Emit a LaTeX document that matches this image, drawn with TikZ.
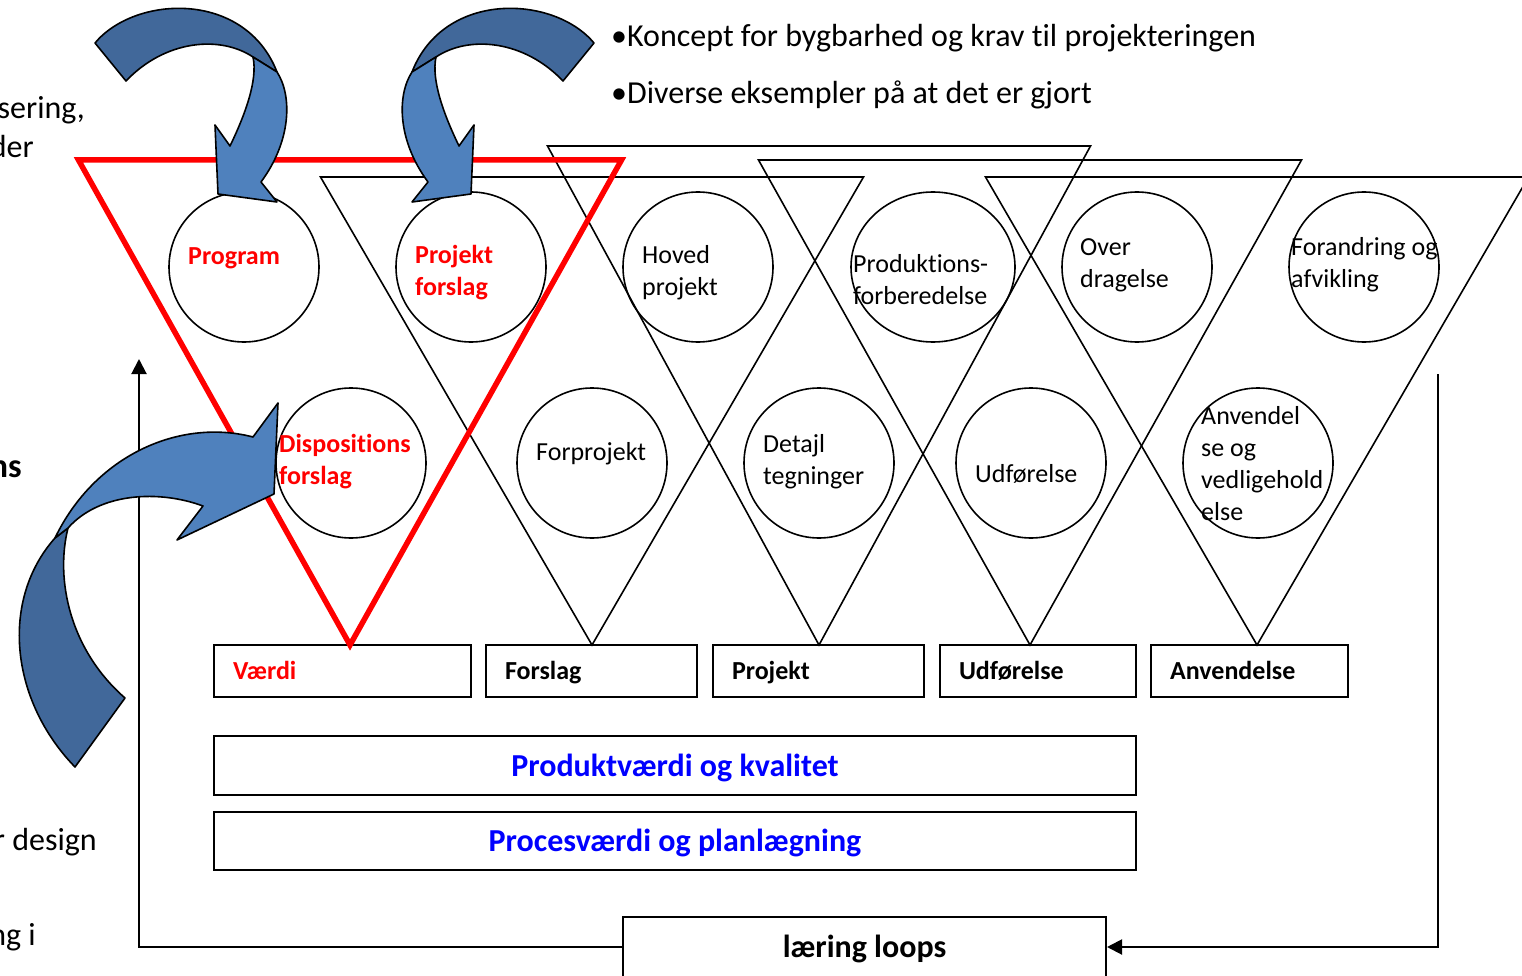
\documentclass[tikz,border=0pt]{standalone}
\usepackage{fontspec}
\setmainfont{Carlito}[Ligatures=NoCommon]
\usepackage{tikz}
\usetikzlibrary{arrows.meta, shapes.geometric}
\tikzstyle{sheet} = [x = 1pt, y = -1pt]
\definecolor{arrowFront}{RGB}{79,129,189}
\definecolor{arrowBack}{RGB}{65,104,154}
\definecolor{phaseRed}{RGB}{255,0,0}
\definecolor{valueBlue}{RGB}{0,0,255}
\newcommand{\smallFont}{\fontsize{26}{32}\selectfont}
\newcommand{\bigFont}{\fontsize{32}{38}\selectfont}
\tikzstyle{triangleLine} = [color=black, line width=1.6pt]
\tikzstyle{redTriangleLine} = [color=phaseRed, line width=5.5pt]
\tikzstyle{stageCircle} = [draw, ellipse, line width=1.6pt, minimum width=150, minimum height=150, inner sep=0]
\tikzstyle{stageText} = [font=\smallFont, align=left, inner sep=0, anchor=west]
\tikzstyle{redBold} = [text=phaseRed, font=\smallFont\bfseries]
\tikzstyle{phaseBoxStyle} = [draw, text height=17.5pt, text depth=0pt, line width=2pt, minimum height=52, inner xsep=19, align=left, font=\smallFont\bfseries]
\tikzstyle{valueBox} = [draw, text height=21.5pt, text depth=0pt, line width=2pt, minimum width=922, text=valueBlue, font=\bigFont\bfseries]
\tikzstyle{learningBox} = [draw, text height=21.5pt, text depth=0pt, line width=2pt, minimum width=483, minimum height=60, font=\bigFont\bfseries]
\tikzstyle{bigText} = [font=\bigFont, inner sep=0]
\tikzstyle{loopLine} = [line width=2pt, -{Triangle[length=15pt, width=15pt]}]
\tikzstyle{arrowBackStyle} = [fill=arrowBack, draw=black, line width=1.6pt, line join=round]
\tikzstyle{arrowFrontStyle} = [fill=arrowFront, draw=black, line width=1.6pt, line join=round]
\newcommand{\phaseTriangle}[3]{\draw [#3] (#1 - 271.5, #2) -- (#1 + 271.5, #2) -- (#1, 645) -- cycle;}
\newcommand{\stage}[8][]{
  \node [stageCircle, #1] (#2) at (#3, #4) {};
  \node [stageText, #8] (#2Text) at (#5, #6) {#7};
}
\newcommand{\phaseBox}[5]{
  \pgfmathsetmacro{\boxWidth}{#3 - #2 - 38}
  \node [phaseBoxStyle, text width=\boxWidth pt, text=#5] (#1) at ({(#2 + #3) / 2}, 671) {#4};
}

\begin{document}
\begin{tikzpicture}[sheet]
  \useasboundingbox (0,0) rectangle (1522,976);

  \node [bigText, anchor=base west] (koncept) at (611, 47) {•Koncept for bygbarhed og krav til projekteringen};
  \node [bigText, anchor=base west] (diverse) at (611, 104) {•Diverse eksempler på at det er gjort};
  \node [bigText, anchor=base east] (sering) at (85, 119) {sering,};
  \node [bigText, anchor=base east] (der) at (34, 158) {der};
  \node [bigText, anchor=base east, font=\fontsize{34}{40}\selectfont\bfseries] (ns) at (22, 477) {ns};
  \node [bigText, anchor=base east] (design) at (97, 850) {r design};
  \node [bigText, anchor=base east] (ngI) at (36, 945) {ng i};

  \stage{program}{244}{267}{188}{258}{Program}{redBold}
  \stage{projektForslag}{471}{267}{415}{273}{Projekt\\forslag}{redBold}
  \stage{hovedProjekt}{698}{267}{642}{273}{Hoved\\projekt}{}
  \stage[minimum width=164]{produktion}{933}{267}{853}{280}{Produktions-\\forberedelse}{}
  \stage{overdragelse}{1137}{267}{1080}{265}{Over\\dragelse}{}
  \stage{forandring}{1364}{267}{1291}{265}{Forandring og\\afvikling}{}
  \stage{dispositions}{351}{463}{279}{462}{Dispositions\\forslag}{redBold}
  \stage{forprojekt}{592}{463}{536}{454}{Forprojekt}{}
  \stage{detajl}{819}{463}{763}{462}{Detajl\\tegninger}{}
  \stage{udfoerelse}{1031}{463}{975}{474}{Udførelse}{}
  \stage{anvendelse}{1258}{463}{1201}{464}{Anvendel\\se og\\vedligehold\\else}{}

  \phaseBox{vaerdi}{214}{471}{Værdi}{phaseRed}
  \phaseBox{forslag}{486}{697}{Forslag}{black}
  \phaseBox{projekt}{713}{924}{Projekt}{black}
  \phaseBox{udfoerelseBox}{940}{1136}{Udførelse}{black}
  \phaseBox{anvendelseBox}{1151}{1348}{Anvendelse}{black}

  \foreach \apex/\top in {592/177, 819/146, 1030/160, 1257/177} {
    \phaseTriangle{\apex}{\top}{triangleLine}
  }
  \phaseTriangle{350}{160}{redTriangleLine}

  \node [valueBox, minimum height=59] (produktvaerdi) at (675, 765.5) {Produktværdi og kvalitet};
  \node [valueBox, minimum height=58] (procesvaerdi) at (675, 841) {Procesværdi og planlægning};
  \node [learningBox] (laering) at (864.5, 947) {læring loops};

  \coordinate (loopLeftCorner) at (139, 947);
  \coordinate (loopLeftTop) at (139, 359);
  \coordinate (loopRightTop) at (1438, 374);
  \coordinate (loopRightCorner) at (1438, 947);
  \draw [loopLine] (laering.west) -- (loopLeftCorner) -- (loopLeftTop);
  \draw [loopLine] (loopRightTop) -- (loopRightCorner) -- (laering.east);

  \filldraw [arrowBackStyle] (95,43) .. controls (135,-5) and (245,-10) .. (277,72) -- (253,57) .. controls (220,35) and (165,40) .. (126,81) -- cycle;
  \filldraw [arrowFrontStyle] (253,57) -- (277,72) .. controls (292,95) and (292,140) .. (261,182) -- (277,202) -- (218,194) -- (215,125) -- (230,146) .. controls (245,115) and (258,80) .. (253,57) -- cycle;

  \filldraw [arrowBackStyle] (594,43) .. controls (554,-5) and (444,-10) .. (412,72) -- (436,57) .. controls (469,35) and (524,40) .. (563,81) -- cycle;
  \filldraw [arrowFrontStyle] (436,57) -- (412,72) .. controls (397,95) and (397,140) .. (428,182) -- (412,202) -- (471,194) -- (474,125) -- (459,146) .. controls (444,115) and (431,80) .. (436,57) -- cycle;

  \filldraw [arrowBackStyle] (75,767) .. controls (10,700) and (0,600) .. (55,538) -- (68,528) .. controls (55,580) and (70,650) .. (125,698) -- cycle;
  \filldraw [arrowFrontStyle] (55,538) .. controls (95,455) and (180,418) .. (253,437) -- (278,403) -- (274,494) -- (177,540) -- (203,506) .. controls (160,490) and (100,492) .. (68,528) -- cycle;
\end{tikzpicture}
\end{document}
